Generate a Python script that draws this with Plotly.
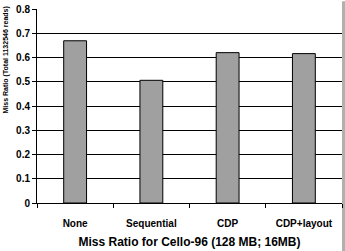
import plotly.graph_objects as go

categories = ["None", "Sequential", "CDP", "CDP+layout"]
miss_ratio = [0.669, 0.506, 0.620, 0.616]
y_ticks = [0, 0.1, 0.2, 0.3, 0.4, 0.5, 0.6, 0.7, 0.8]
y_tick_labels = ["0", "0.1", "0.2", "0.3", "0.4", "0.5", "0.6", "0.7", "0.8"]

fig = go.Figure(go.Bar(
    x=categories, y=miss_ratio,
    marker=dict(color="#a0a0a0", line=dict(color="black", width=1)),
))

font_fam = "Liberation Sans, Arial, sans-serif"
fig.update_layout(
    width=345, height=251,
    margin=dict(l=37, r=3, t=7, b=48),
    paper_bgcolor="white", plot_bgcolor="white",
    bargap=0.7, showlegend=False,
    font=dict(family=font_fam, color="black"),
)
fig.update_xaxes(
    showline=True, linecolor="black", linewidth=1,
    ticks="outside", tickson="boundaries", ticklen=4, tickcolor="black",
    tickfont=dict(size=10, weight="bold"), ticklabelstandoff=11,
    title=dict(text="Miss Ratio for Cello-96 (128 MB; 16MB)",
               font=dict(size=12, weight="bold"), standoff=9),
)
fig.update_yaxes(
    range=[0, 0.8], tickvals=y_ticks, ticktext=y_tick_labels,
    showline=True, linecolor="black", linewidth=1,
    showgrid=True, gridcolor="black", gridwidth=1,
    ticks="outside", ticklen=4, tickcolor="black",
    tickfont=dict(size=10, weight="bold"), zeroline=False,
)
fig.add_annotation(
    text="Miss Ratio (Total 1132546 reads)", textangle=-90,
    xref="paper", yref="paper", x=-37/305, y=1 - 52/196,
    xanchor="left", yanchor="middle", showarrow=False,
    font=dict(size=7, weight="bold"),
)
fig.add_shape(type="rect", xref="paper", yref="paper",
              x0=1.0, x1=1.012, y0=-0.25, y1=1.04,
              fillcolor="#b0b0b0", line=dict(width=0), layer="below")
fig.write_html("out.html")
